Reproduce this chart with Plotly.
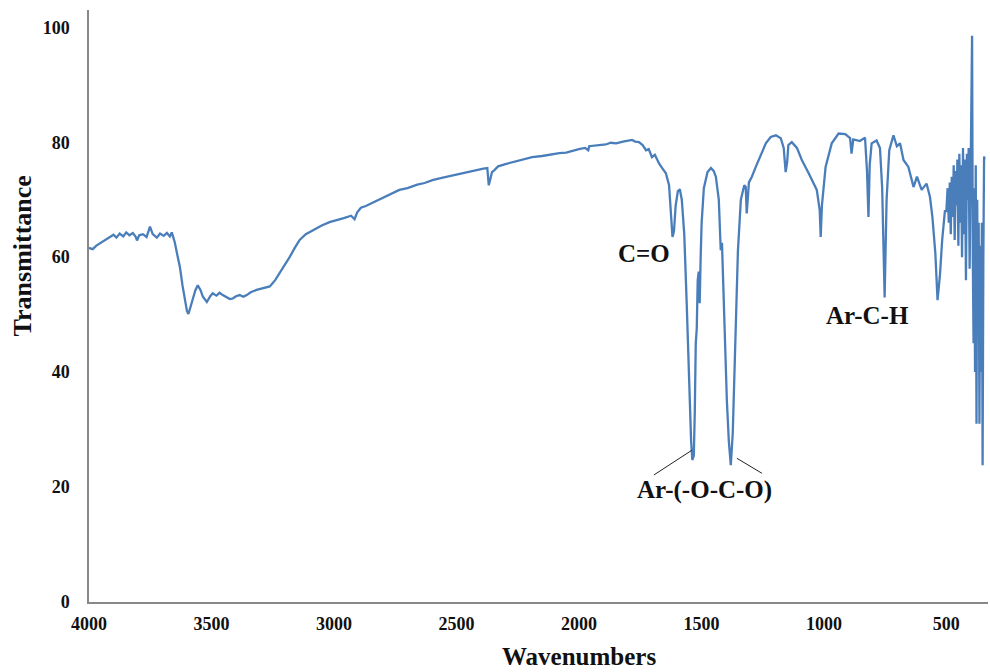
import plotly.graph_objects as go

# ---- data (wavenumber, transmittance) ----
wavenumber = [
    4000, 3985, 3970, 3955, 3940, 3925, 3914, 3900, 3888, 3875, 3860, 3848, 3835, 3821, 3810, 3804,
    3795, 3780, 3765, 3751, 3740, 3723, 3710, 3695, 3682, 3670, 3662, 3650, 3640, 3629, 3618, 3609,
    3600, 3594, 3585, 3576, 3566, 3556, 3545, 3535, 3525, 3519, 3505, 3495, 3480, 3467, 3454, 3440,
    3425, 3413, 3400, 3385, 3370, 3356, 3340, 3316, 3290, 3262, 3240, 3222, 3200, 3181, 3160, 3140,
    3115, 3087, 3050, 3018, 2990, 2960, 2930, 2916, 2905, 2890, 2870, 2850, 2830, 2800, 2770, 2750,
    2733, 2700, 2660, 2630, 2598, 2560, 2520, 2490, 2460, 2420, 2390, 2374, 2368, 2362, 2355, 2346,
    2330, 2300, 2260, 2220, 2191, 2150, 2110, 2080, 2052, 2020, 2000, 1975, 1962, 1958, 1940, 1918,
    1890, 1870, 1848, 1820, 1800, 1783, 1770, 1755, 1740, 1726, 1715, 1702, 1690, 1673, 1660, 1645,
    1632, 1625, 1618, 1612, 1605, 1596, 1588, 1580, 1570, 1560, 1550, 1542, 1537, 1531, 1527, 1523,
    1519, 1515, 1511, 1507, 1503, 1499, 1490, 1475, 1461, 1450, 1441, 1429, 1421, 1416, 1412, 1404,
    1396, 1388, 1380, 1372, 1366, 1360, 1351, 1339, 1325, 1319, 1315, 1306, 1294, 1278, 1258, 1237,
    1217, 1196, 1176, 1164, 1156, 1150, 1145, 1131, 1110, 1090, 1062, 1042, 1029, 1017, 1013, 1008,
    993, 968, 940, 913, 893, 887, 880, 853, 832, 824, 818, 813, 805, 785, 771, 762,
    752, 744, 733, 716, 702, 689, 675, 655, 634, 620, 601, 581, 567, 557, 545, 536,
    526, 517, 506, 500, 495, 490, 486, 482, 478, 474, 470, 466, 462, 458, 455, 451,
    447, 443, 440, 436, 432, 428, 424, 420, 416, 412, 409, 405, 401, 398, 395, 392,
    389, 386, 383, 380, 377, 374, 371, 368, 365, 362, 358, 355, 352, 349, 346, 344,
]
transmittance = [
    61.6, 61.4, 62.0, 62.4, 62.8, 63.2, 63.5, 63.9, 63.4, 64.1, 63.6, 64.3, 63.8, 64.2, 63.6, 62.9,
    63.8, 64.0, 63.5, 65.3, 64.0, 63.4, 64.1, 63.7, 64.2, 63.6, 64.3, 62.6, 60.5, 58.3, 55.0, 52.5,
    50.6, 50.1, 51.4, 52.5, 54.2, 55.1, 54.3, 53.1, 52.4, 52.2, 53.2, 53.7, 53.3, 53.8, 53.4, 53.1,
    52.7, 52.8, 53.2, 53.4, 53.1, 53.4, 53.9, 54.3, 54.6, 54.9, 56.0, 57.2, 58.6, 60.0, 61.6, 63.0,
    64.0, 64.7, 65.5, 66.1, 66.5, 66.8, 67.2, 66.6, 67.8, 68.6, 68.9, 69.3, 69.7, 70.3, 71.0, 71.3,
    71.7, 72.0, 72.6, 72.9, 73.4, 73.8, 74.2, 74.5, 74.8, 75.1, 75.4, 75.5, 72.5, 73.5, 74.8, 75.1,
    75.8, 76.2, 76.6, 77.0, 77.4, 77.6, 77.9, 78.1, 78.2, 78.6, 78.8, 79.0, 78.6, 79.3, 79.4, 79.5,
    79.6, 79.9, 79.8, 80.1, 80.2, 80.4, 80.1, 80.0, 79.5, 78.6, 78.8, 77.4, 77.8, 76.3, 75.5, 74.6,
    72.5, 68.0, 63.5, 64.5, 69.0, 71.5, 71.8, 70.0, 64.0, 52.0, 38.0, 28.0, 24.7, 25.5, 33.0, 45.0,
    47.5, 56.0, 57.5, 52.0, 60.0, 66.0, 72.0, 74.8, 75.5, 75.0, 74.0, 70.0, 61.2, 62.5, 57.0, 45.0,
    35.0, 28.0, 23.8, 29.4, 38.0, 46.8, 61.0, 70.0, 72.5, 72.2, 67.6, 73.0, 74.0, 75.7, 77.7, 79.8,
    80.9, 81.2, 80.7, 79.0, 74.8, 76.5, 79.5, 80.0, 79.0, 76.9, 74.6, 72.8, 71.7, 68.2, 63.5, 69.0,
    75.7, 79.8, 81.5, 81.4, 80.7, 78.0, 80.5, 80.2, 80.8, 75.0, 67.0, 76.0, 79.8, 80.3, 79.0, 72.0,
    53.0, 70.0, 78.6, 81.2, 79.3, 79.8, 76.9, 75.7, 72.2, 74.0, 71.7, 72.8, 70.5, 67.0, 60.7, 52.5,
    57.0, 63.0, 68.0, 68.0, 72.0, 66.0, 73.0, 64.0, 74.0, 67.0, 76.0, 63.0, 75.0, 69.0, 77.0, 62.0,
    78.0, 66.0, 76.0, 60.0, 79.0, 64.0, 77.0, 56.0, 78.0, 70.0, 79.0, 58.0, 75.0, 87.0, 98.5, 60.0,
    45.0, 72.0, 40.0, 76.0, 31.0, 70.0, 50.0, 66.0, 31.0, 62.0, 40.0, 66.0, 23.8, 60.0, 77.5, 77.0,
]

x_ticks = [4000, 3500, 3000, 2500, 2000, 1500, 1000, 500]
y_ticks = [0, 20, 40, 60, 80, 100]

labels = ["C=O", "Ar-C-H", "Ar-(-O-C-O)"]
label_x = [1734, 822, 1486]
label_y = [60.7, 49.9, 19.5]

# leader lines for Ar-(-O-C-O): (x0, y0, x1, y1)
leaders = [(1694, 22.1, 1539, 26.4), (1355, 25.0, 1253, 22.4)]

FONT = "Liberation Serif"
LINE_BLUE = "#4A7EBB"
AXIS_GREY = "#888888"

fig = go.Figure()
fig.add_trace(go.Scatter(
    x=wavenumber, y=transmittance, mode="lines",
    line=dict(color=LINE_BLUE, width=2.3), showlegend=False, hoverinfo="x+y",
))

for t, lx, ly in zip(labels, label_x, label_y):
    fig.add_annotation(x=lx, y=ly, xref="x", yref="y", text=f"<b>{t}</b>", showarrow=False,
                       font=dict(family=FONT, size=25, color="#111111"))

for x0, y0, x1, y1 in leaders:
    fig.add_shape(type="line", xref="x", yref="y", x0=x0, y0=y0, x1=x1, y1=y1,
                  line=dict(color="#222222", width=1))

# axis titles
fig.add_annotation(x=0.545, y=-0.092, xref="paper", yref="paper", text="<b>Wavenumbers</b>",
                   showarrow=False, font=dict(family=FONT, size=25, color="#111111"),
                   xanchor="center", yanchor="middle")
fig.add_annotation(x=-0.0744, y=0.584, xref="paper", yref="paper", text="<b>Transmittance</b>",
                   showarrow=False, textangle=-90, font=dict(family=FONT, size=26, color="#111111"),
                   xanchor="center", yanchor="middle")

fig.update_layout(
    width=990, height=672,
    margin=dict(l=89, r=2, t=10, b=70),
    paper_bgcolor="white", plot_bgcolor="white",
    font=dict(family=FONT, color="#111111"),
)
fig.update_xaxes(
    range=[4000, 330], tickvals=x_ticks, ticktext=[f"<b>{v}</b>" for v in x_ticks],
    showgrid=False, zeroline=False, showline=True, linecolor=AXIS_GREY, linewidth=1.5,
    ticks="", ticklabelstandoff=5, tickfont=dict(family=FONT, size=18, color="#111111"),
)
fig.update_yaxes(
    range=[0, 103], tickvals=y_ticks, ticktext=[f"<b>{v}</b>" for v in y_ticks],
    showgrid=False, zeroline=False, showline=True, linecolor=AXIS_GREY, linewidth=1.5,
    ticks="", ticklabelstandoff=14, tickfont=dict(family=FONT, size=18, color="#111111"),
)

fig.write_html("out.html")
